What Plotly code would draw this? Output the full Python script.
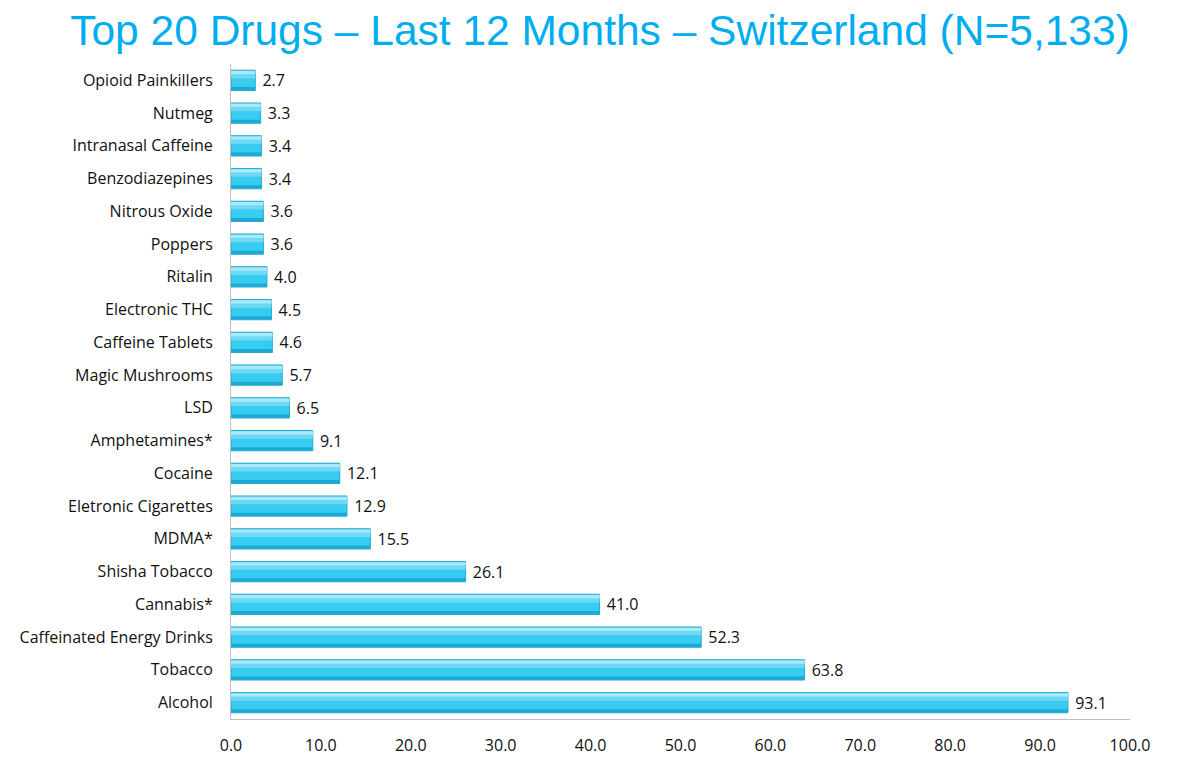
import plotly.graph_objects as go

drugs = ["Alcohol", "Tobacco", "Caffeinated Energy Drinks", "Cannabis*", "Shisha Tobacco",
         "MDMA*", "Eletronic Cigarettes", "Cocaine", "Amphetamines*", "LSD",
         "Magic Mushrooms", "Caffeine Tablets", "Electronic THC", "Ritalin", "Poppers",
         "Nitrous Oxide", "Benzodiazepines", "Intranasal Caffeine", "Nutmeg", "Opioid Painkillers"]
values = [93.1, 63.8, 52.3, 41.0, 26.1, 15.5, 12.9, 12.1, 9.1, 6.5,
          5.7, 4.6, 4.5, 4.0, 3.6, 3.6, 3.4, 3.4, 3.3, 2.7]
tick_vals = [0, 10, 20, 30, 40, 50, 60, 70, 80, 90, 100]
tick_text = ["0.0", "10.0", "20.0", "30.0", "40.0", "50.0", "60.0", "70.0", "80.0", "90.0", "100.0"]

FONT = "Open Sans, Liberation Sans, sans-serif"

fig = go.Figure()
# main bar body
fig.add_trace(go.Bar(
    y=drugs, x=values, orientation="h", width=0.62,
    marker=dict(color="#38CCF1", line=dict(color="#2AAACF", width=1)),
    text=["\u00a0" + f"{v:.1f}" for v in values], textposition="outside",
    constraintext="none",
    textfont=dict(family=FONT, size=16, color="#111111"),
    cliponaxis=False, hoverinfo="x+y", showlegend=False,
))
# soft highlight (gradient imitation)
fig.add_trace(go.Bar(
    y=drugs, x=values, orientation="h", width=0.22, offset=0.06,
    marker=dict(color="#6FD8F5", line=dict(width=0)),
    hoverinfo="skip", showlegend=False,
))
fig.add_trace(go.Bar(
    y=drugs, x=values, orientation="h", width=0.1, offset=0.19,
    marker=dict(color="#A8E9FA", line=dict(width=0)),
    hoverinfo="skip", showlegend=False,
))
# darker lower strip
fig.add_trace(go.Bar(
    y=drugs, x=values, orientation="h", width=0.1, offset=-0.3,
    marker=dict(color="#1BAAD6", line=dict(width=0)),
    hoverinfo="skip", showlegend=False,
))

fig.update_layout(
    width=1184, height=747,
    barmode="overlay",
    paper_bgcolor="white", plot_bgcolor="white",
    margin=dict(l=223, r=62, t=56, b=36),
    title=dict(text="Top 20 Drugs \u2013 Last 12 Months \u2013 Switzerland (N=5,133)",
               x=0.5, xanchor="center", xref="container", y=0.97, yanchor="middle",
               font=dict(family="Liberation Sans, Arial, sans-serif", size=42.5, color="#00AEEF")),
    font=dict(family=FONT, size=16, color="#111111"),
    xaxis=dict(range=[0, 100], tickvals=tick_vals, ticktext=tick_text,
               showgrid=False, zeroline=False, showline=True, linecolor="#BFBFBF",
               linewidth=1, ticks="", tickfont=dict(size=16, color="#111111"),
               ticklabelstandoff=12, automargin=False),
    yaxis=dict(categoryorder="array", categoryarray=drugs, showgrid=False,
               showline=True, linecolor="#BFBFBF", linewidth=1, ticks="",
               tickfont=dict(size=16, color="#111111"), automargin=False,
               ticklabelstandoff=14),
)

fig.write_html("out.html")
